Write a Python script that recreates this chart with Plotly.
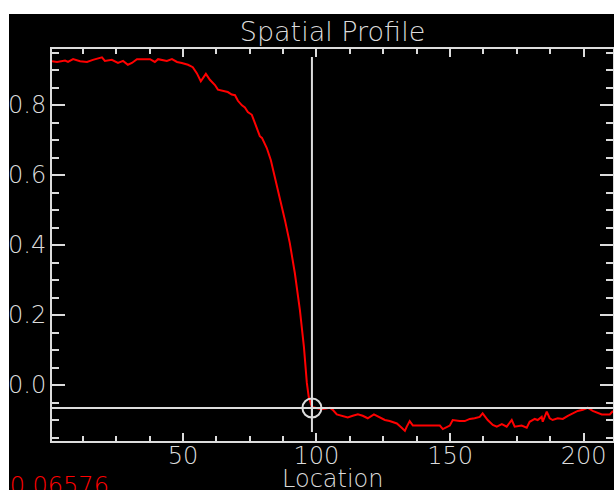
import plotly.graph_objects as go

# Spatial profile samples (location, value)
location = [1.0, 2.9, 5.9, 7.0, 8.9, 11.5, 14.1, 16.3, 19.7, 20.8, 23.4, 25.7, 27.6, 29.4,
            30.9, 32.8, 37.7, 39.5, 40.7, 44.0, 45.9, 47.8, 49.6, 51.9, 53.7, 55.2, 56.7,
            57.5, 58.6, 60.1, 62.0, 63.1, 65.0, 66.8, 68.3, 69.5, 70.6, 72.1, 73.2, 74.3,
            75.8, 77.3, 78.8, 79.6, 81.4, 82.9, 84.4, 86.3, 88.2, 90.0, 91.9, 93.8, 95.3,
            96.4, 97.1, 98.3, 102.0, 105.0, 106.1, 107.6, 109.5, 111.7, 113.6, 115.5,
            117.3, 119.2, 121.5, 123.7, 125.6, 127.4, 130.1, 131.9, 133.1, 133.8, 134.9,
            136.1, 141.3, 146.2, 147.3, 148.8, 149.9, 151.0, 153.6, 155.5, 157.4, 159.2,
            161.1, 162.2, 164.1, 166.0, 167.5, 169.4, 171.2, 173.1, 174.2, 176.8, 178.7,
            179.8, 181.7, 182.8, 184.3, 184.7, 186.2, 187.3, 188.4, 190.3, 192.2, 194.1,
            196.0, 197.8, 199.7, 201.5, 203.4, 204.9, 206.8, 209.8, 211.0]
profile = [0.925, 0.923, 0.927, 0.923, 0.931, 0.925, 0.923, 0.929, 0.936, 0.926, 0.929,
           0.920, 0.926, 0.915, 0.920, 0.931, 0.931, 0.923, 0.931, 0.926, 0.931, 0.923,
           0.920, 0.915, 0.908, 0.891, 0.868, 0.877, 0.889, 0.872, 0.857, 0.844, 0.841,
           0.837, 0.830, 0.828, 0.812, 0.799, 0.793, 0.780, 0.772, 0.740, 0.711, 0.706,
           0.677, 0.643, 0.594, 0.537, 0.471, 0.406, 0.320, 0.214, 0.109, 0.006, -0.034,
           -0.063, -0.069, -0.065, -0.071, -0.084, -0.088, -0.093, -0.088, -0.084, -0.088,
           -0.095, -0.084, -0.093, -0.100, -0.103, -0.110, -0.122, -0.131, -0.119, -0.103,
           -0.116, -0.116, -0.116, -0.126, -0.119, -0.116, -0.100, -0.103, -0.103, -0.097,
           -0.095, -0.091, -0.081, -0.100, -0.114, -0.119, -0.112, -0.119, -0.100, -0.119,
           -0.116, -0.122, -0.105, -0.097, -0.100, -0.091, -0.105, -0.076, -0.095, -0.100,
           -0.095, -0.097, -0.088, -0.081, -0.074, -0.071, -0.065, -0.074, -0.078, -0.084,
           -0.084, -0.074]

# Cursor position
cursor_x = 98.3
cursor_y = -0.06576

x_range = [1, 211]
y_range = [-0.16, 0.96]
x_ticks = [50, 100, 150, 200]
y_ticks = [0.0, 0.2, 0.4, 0.6, 0.8]

W, H = 614, 490
ML, MR, MT, MB = 52, 1, 49, 49
PW, PH = W - ML - MR, H - MT - MB

FG = "#dcdcdc"
FONT = "DejaVu Sans"
LIGHT = 300


def paper_x(px):
    return (px - ML) / PW


def paper_y(py):
    return (H - MB - py) / PH


def data_y(py):
    return y_range[1] - (py - MT) * (y_range[1] - y_range[0]) / PH


fig = go.Figure()

fig.add_trace(go.Scatter(x=location, y=profile, mode="lines",
                         line=dict(color="#ff0000", width=2), hoverinfo="skip"))

# cursor crosshair
fig.add_trace(go.Scatter(x=x_range, y=[cursor_y, cursor_y], mode="lines",
                         line=dict(color=FG, width=2), hoverinfo="skip"))
fig.add_trace(go.Scatter(x=[cursor_x, cursor_x], y=[data_y(57), data_y(432)], mode="lines",
                         line=dict(color=FG, width=2), hoverinfo="skip"))
fig.add_trace(go.Scatter(x=[cursor_x], y=[cursor_y], mode="markers",
                         marker=dict(symbol="circle-cross-open", size=19,
                                     color=FG, line=dict(color=FG, width=2)),
                         hoverinfo="skip"))

axis_common = dict(showline=True, linecolor=FG, linewidth=2, mirror="allticks",
                   ticks="inside", tickcolor=FG, tickwidth=2, showgrid=False,
                   zeroline=False, automargin=False,
                   tickfont=dict(family=FONT, size=24, color=FG, weight=LIGHT))

fig.update_xaxes(range=x_range, tickvals=x_ticks, ticklen=8,
                 minor=dict(ticks="inside", ticklen=5, dtick=12.5, tick0=0,
                            tickcolor=FG, tickwidth=2, showgrid=False),
                 ticklabelstandoff=-8, **axis_common)
fig.update_yaxes(range=y_range, tickvals=y_ticks, tickformat=".1f", ticklen=13,
                 minor=dict(ticks="inside", ticklen=7, dtick=0.05, tick0=0,
                            tickcolor=FG, tickwidth=2, showgrid=False),
                 ticklabelstandoff=-1, **axis_common)

fig.update_layout(
    width=W, height=H,
    margin=dict(l=ML, r=MR, t=MT, b=MB, pad=0, autoexpand=False),
    paper_bgcolor="black", plot_bgcolor="black",
    showlegend=False,
    title=dict(text="Spatial Profile", x=0.5, xref="paper", y=1 - 32 / H,
               yref="container", yanchor="middle", xanchor="center",
               font=dict(family=FONT, size=27, color=FG, weight=LIGHT)),
    shapes=[
        dict(type="rect", xref="paper", yref="paper", layer="above",
             x0=paper_x(0), x1=paper_x(W), y0=paper_y(14), y1=paper_y(0),
             fillcolor="white", line=dict(width=0)),
        dict(type="rect", xref="paper", yref="paper", layer="above",
             x0=paper_x(0), x1=paper_x(9), y0=paper_y(H), y1=paper_y(14),
             fillcolor="white", line=dict(width=0)),
    ],
    annotations=[
        # x axis title
        dict(text="Location", xref="paper", yref="paper", x=0.5, y=paper_y(463),
             xanchor="center", yanchor="top", showarrow=False,
             font=dict(family=FONT, size=24, color=FG, weight=LIGHT)),
        # cursor value readout, its sign falls under the window border
        dict(text=f"{cursor_y:.5f}", xref="paper", yref="paper",
             x=paper_x(-1), y=paper_y(486), xanchor="left", yanchor="middle",
             showarrow=False,
             font=dict(family=FONT, size=24, color="#ff0000", weight=LIGHT)),
        # window border strip drawn over the readout
        dict(text="", xref="paper", yref="paper", x=paper_x(0), y=paper_y(14),
             xanchor="left", yanchor="top", width=9, height=H - 14,
             bgcolor="white", borderpad=0, borderwidth=0, showarrow=False),
    ],
)

fig.write_html("out.html")
